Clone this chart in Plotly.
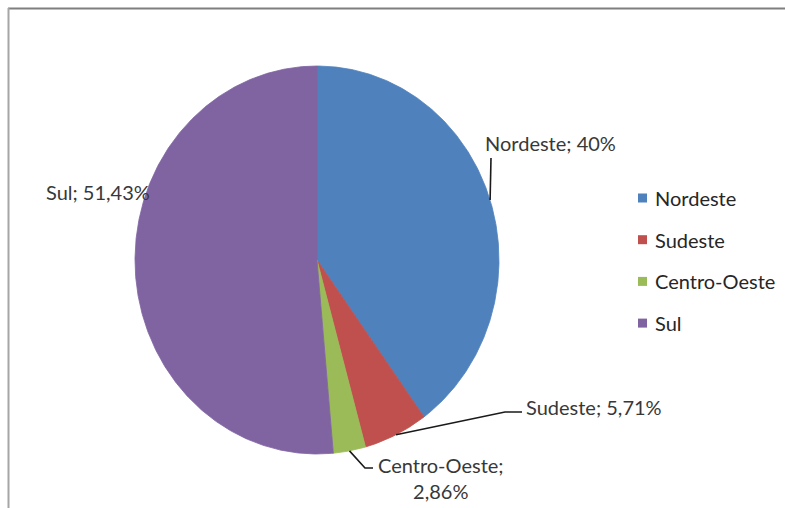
import numpy as np
import plotly.graph_objects as go

# ---- data ----
categories = ["Nordeste", "Sudeste", "Centro-Oeste", "Sul"]
values = [40.0, 5.71, 2.86, 51.43]
label_texts = ["Nordeste; 40%", "Sudeste; 5,71%", "Centro-Oeste;<br>2,86%", "Sul; 51,43%"]
colors = ["#4F81BD", "#C0504D", "#9BBB59", "#8064A2"]

# ---- layout constants (pixel space) ----
W, H = 785, 508
CX, CY, RX, RY = 317, 260, 182, 194
FONT = "Lato"
TXT = "#383838"

label_layout = {
    "Nordeste": dict(xy=(483, 143), xanchor="left", elbow=[(491, 158)]),
    "Sudeste": dict(xy=(524, 407), xanchor="left", elbow=[(505, 412), (522, 412)]),
    "Centro-Oeste": dict(xy=(441, 478), xanchor="center", elbow=[(365, 468), (373, 468)]),
    "Sul": dict(xy=(44, 192), xanchor="left", elbow=[]),
}
legend_x, legend_y0, legend_dy = 638, 198, 41.7

fig = go.Figure()

vals = np.array(values, dtype=float)
frac = vals / vals.sum()
ends = np.cumsum(frac) * 2 * np.pi
starts = ends - frac * 2 * np.pi


def pt(t, r=1.0):
    return CX + RX * r * np.sin(t), CY - RY * r * np.cos(t)


for cat, s, e, col in zip(categories, starts, ends, colors):
    n = max(4, int(np.degrees(e - s) * 2))
    t = np.linspace(s, e, n)
    ax, ay = pt(t)
    xs = np.concatenate([[CX], ax, [CX]])
    ys = np.concatenate([[CY], ay, [CY]])
    fig.add_trace(go.Scatter(x=xs, y=ys, mode="lines", fill="toself",
                             fillcolor=col, line=dict(color=col, width=0.8),
                             name=cat, hoverinfo="name", showlegend=False))

shapes = []
annotations = []
for cat, s, e, txt in zip(categories, starts, ends, label_texts):
    lay = label_layout[cat]
    mid = (s + e) / 2
    ex, ey = pt(mid)
    if lay["elbow"]:
        pts = [(ex, ey)] + lay["elbow"]
        path = "M " + " L ".join(f"{x:.1f},{y:.1f}" for x, y in pts)
        shapes.append(dict(type="path", path=path, xref="x", yref="y",
                           line=dict(color="#1a1a1a", width=1.6)))
    annotations.append(dict(x=lay["xy"][0], y=lay["xy"][1], xref="x", yref="y",
                            text=txt, showarrow=False, xanchor=lay["xanchor"],
                            yanchor="middle", align="center",
                            font=dict(family=FONT, size=20, color=TXT)))

# legend (manual, for Excel-like spacing)
for i, (cat, col) in enumerate(zip(categories, colors)):
    yy = legend_y0 + i * legend_dy
    shapes.append(dict(type="rect", xref="x", yref="y",
                       x0=legend_x, x1=legend_x + 9, y0=yy - 4.5, y1=yy + 4.5,
                       fillcolor=col, line=dict(width=0)))
    annotations.append(dict(x=legend_x + 15, y=yy, xref="x", yref="y", text=cat,
                            showarrow=False, xanchor="left", yanchor="middle",
                            font=dict(family=FONT, size=20, color="#262626")))

# chart border (top and left visible)
shapes.append(dict(type="line", xref="x", yref="y", x0=8, x1=W + 5, y0=8.5, y1=8.5,
                   line=dict(color="#7f7f7f", width=2)))
shapes.append(dict(type="line", xref="x", yref="y", x0=8.5, x1=8.5, y0=8, y1=H + 5,
                   line=dict(color="#a6a6a6", width=2)))

fig.update_layout(
    width=W, height=H, margin=dict(l=0, r=0, t=0, b=0),
    paper_bgcolor="white", plot_bgcolor="white",
    xaxis=dict(range=[0, W], visible=False, fixedrange=True),
    yaxis=dict(range=[H, 0], visible=False, fixedrange=True),
    shapes=shapes, annotations=annotations, showlegend=False,
)

fig.write_html("out.html")
